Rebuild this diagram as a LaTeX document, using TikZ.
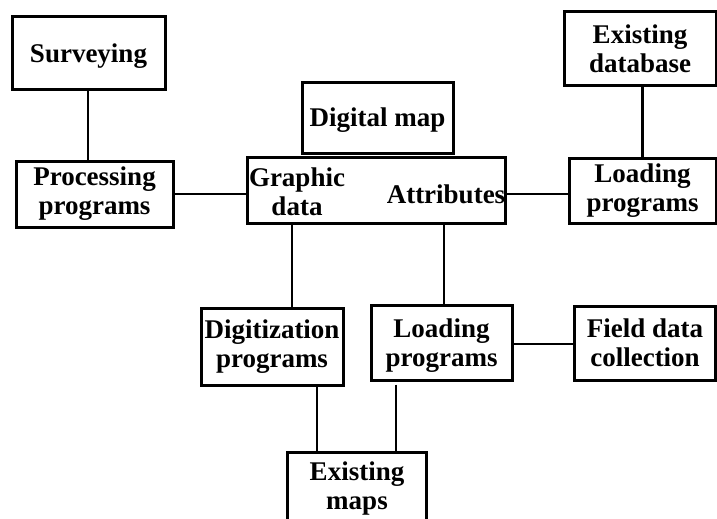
\documentclass[tikz,border=0pt]{standalone}
\usepackage{fontspec}
\setmainfont{Liberation Serif}
\usetikzlibrary{calc}
\newcommand\boxfont{\fontsize{27}{29}\selectfont\bfseries}
\begin{document}
\begin{tikzpicture}[x=1pt,y=-1pt,
  box/.style={draw, line width=3pt, rectangle, inner sep=0pt, align=center, font=\boxfont},
  link/.style={line width=2.6pt},
  txt/.style={inner sep=0pt, align=center, font=\boxfont}]
  % page area
  \fill[white] (0,0) rectangle (717,519);
  \useasboundingbox (0,0) rectangle (717,519);

  % boxes
  \node[box, text depth=0pt, minimum width=153pt, minimum height=72pt] (surv) at (88.5,53) {Surveying};
  \node[box, minimum width=157pt, minimum height=66pt] (proc) at (94.5,194) {Processing\\programs};
  \node[box, minimum width=258pt, minimum height=66pt] (gd) at (376,190) {};
  \node[txt] (gdtext) at (297,192) {Graphic\\data};
  \node[txt] (attr) at (446,194) {Attributes};
  \node[box, text depth=0pt, minimum width=151pt, minimum height=71pt] (dmap) at (377.5,117.5) {Digital map};
  \node[box, minimum width=152pt, minimum height=73pt] (edb) at (640,48.5) {Existing\\database};
  \node[box, minimum width=147pt, minimum height=65pt] (loadR) at (642.5,190.5) {Loading\\programs};
  \node[box, minimum width=142pt, minimum height=77pt] (digi) at (272,346.5) {Digitization\\programs};
  \node[box, text depth=0pt, minimum width=141pt, minimum height=75pt] (loadM) at (441.5,342.5) {Loading\\programs};
  \node[box, text depth=0pt, minimum width=141pt, minimum height=74pt] (field) at (645,343) {Field data\\collection};
  \node[box, minimum width=139pt, minimum height=83pt] (emaps) at (356.5,493.5) {};
  \node[txt] (emtext) at (357,489) {Existing\\maps};

  % attachment points for connectors off the box centres
  \coordinate (stop) at ($(surv.south)+(-0.5,0)$);
  \coordinate (dtop) at ($(digi.north)+(20,0)$);
  \coordinate (ltop) at ($(loadM.north)+(2.5,0)$);
  \coordinate (dbot) at ($(digi.south)+(45,0)$);
  \coordinate (lbot) at ($(loadM.south)+(-45.5,3)$);
  \coordinate (gdr) at ($(gd.east)+(0,4)$);
  \coordinate (lright) at ($(loadM.east)+(0,1.5)$);

  % connectors
  \draw[link] (stop) -- (stop |- proc.north);
  \draw[link] (proc.east) -- (proc.east -| gd.west);
  \draw[link] (gdr) -- (gdr -| loadR.west);
  \draw[link] (loadR.north) -- (loadR.north |- edb.south);
  \draw[link] (dtop) -- (dtop |- gd.south);
  \draw[link] (ltop) -- (ltop |- gd.south);
  \draw[link] (lright) -- (lright -| field.west);
  \draw[link] (dbot) -- (dbot |- emaps.north);
  \draw[link] (lbot) -- (lbot |- emaps.north);
\end{tikzpicture}
\end{document}
